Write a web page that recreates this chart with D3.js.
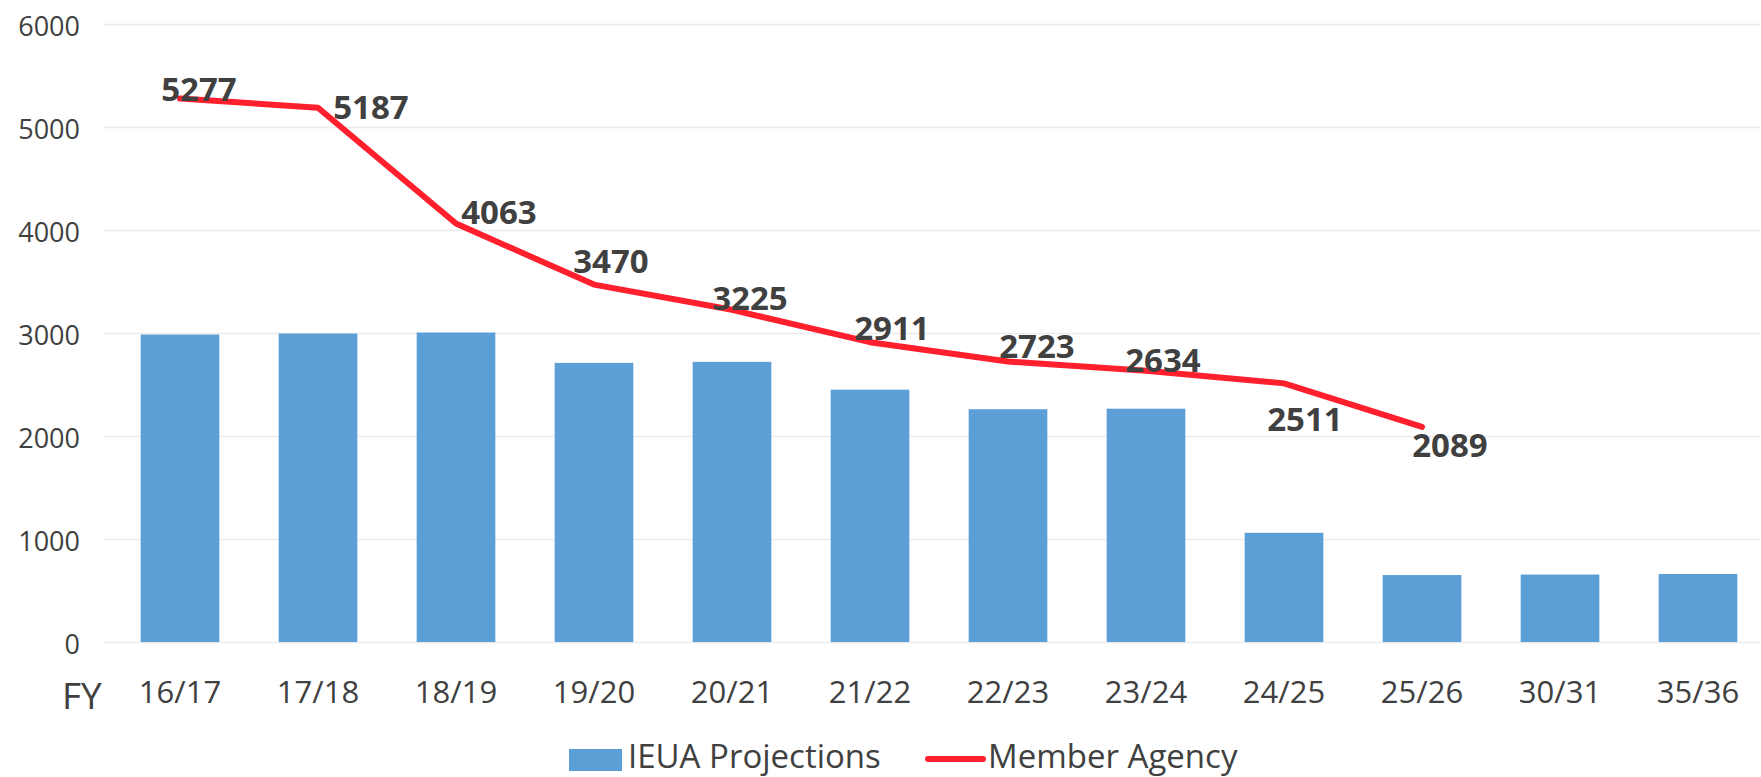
<!DOCTYPE html>
<html>
<head>
<meta charset="utf-8">
<script src="https://cdn.jsdelivr.net/npm/d3@7"></script>
<style>
  html, body { margin: 0; padding: 0; background: #ffffff; }
  svg { display: block; font-family: "Open Sans", sans-serif; }
</style>
</head>
<body>
<div id="chart"></div>
<script>
// fiscal years on the x axis
const years = ["16/17", "17/18", "18/19", "19/20", "20/21", "21/22", "22/23", "23/24", "24/25", "25/26", "30/31", "35/36"];
// IEUA Projections (bars)
const ieuaProjections = [2985, 2995, 3005, 2710, 2720, 2450, 2260, 2265, 1060, 650, 655, 660];
// Member Agency (line), only up to 25/26
const memberAgency = [5277, 5187, 4063, 3470, 3225, 2911, 2723, 2634, 2511, 2089];
const yTicks = [0, 1000, 2000, 3000, 4000, 5000, 6000];

// label nudges in px (layout only), relative to each line point
const labelNudge = [[19, -9], [53, -1], [43, -12], [17, -24], [18, -12], [22, -14], [29, -16], [17, -11], [21, 36], [28, 18]];

const width = 1761, height = 777;
const barColor = "#5b9fd6", lineColor = "#ff1f2d", textColor = "#404040";

const svg = d3.select("#chart")
  .append("svg")
    .attr("width", width)
    .attr("height", height);

svg.append("rect")
  .attr("width", width)
  .attr("height", height)
  .attr("fill", "#ffffff");

// scales
const x = d3.scaleBand()
  .domain(years)
  .range([111, 1767])
  .paddingInner(0.43)
  .paddingOuter(0.215);

const y = d3.scaleLinear()
  .domain([0, 6000])
  .range([642, 24]);

// grid lines + y labels
const yAxis = svg.append("g")
  .call(d3.axisLeft(y).tickValues(yTicks).tickSize(0).tickPadding(0).tickFormat(d3.format("d")));
yAxis.select(".domain").remove();
yAxis.selectAll(".tick line").remove();
yAxis.selectAll(".tick").each(function () {
  const g = d3.select(this);
  g.insert("line", "text")
    .attr("x1", 104)
    .attr("x2", width)
    .attr("stroke", "#ebebeb")
    .attr("stroke-width", 1.5);
});
yAxis.selectAll(".tick text")
  .attr("x", 80)
  .attr("dy", null)
  .attr("y", 11)
  .attr("fill", textColor)
  .style("font-size", "27px")
  .style("font-family", "Open Sans")
  .attr("text-anchor", "end");

// bars
svg.append("g")
  .selectAll("rect")
  .data(ieuaProjections)
  .join("rect")
    .attr("x", (d, i) => x(years[i]))
    .attr("y", d => y(d))
    .attr("width", x.bandwidth())
    .attr("height", d => y(0) - y(d))
    .attr("fill", barColor);

// x axis labels
const xAxis = svg.append("g")
  .attr("transform", "translate(0, 703)")
  .call(d3.axisBottom(x).tickSize(0).tickPadding(0));
xAxis.select(".domain").remove();
xAxis.selectAll(".tick text")
  .attr("y", 0)
  .attr("dy", null)
  .attr("fill", textColor)
  .style("font-size", "31px")
  .style("font-family", "Open Sans");

svg.append("text")
  .attr("x", 62)
  .attr("y", 709)
  .attr("fill", textColor)
  .style("font-size", "37px")
  .text("FY");

// member agency line
const cx = (d, i) => x(years[i]) + x.bandwidth() / 2;
svg.append("path")
  .datum(memberAgency)
  .attr("fill", "none")
  .attr("stroke", lineColor)
  .attr("stroke-width", 6)
  .attr("stroke-linejoin", "round")
  .attr("stroke-linecap", "round")
  .attr("d", d3.line()
    .x(cx)
    .y(d => y(d))
  );

// data labels
svg.append("g")
  .selectAll("text")
  .data(memberAgency)
  .join("text")
    .attr("x", (d, i) => cx(d, i) + labelNudge[i][0])
    .attr("y", (d, i) => y(d) + labelNudge[i][1] + 12)
    .attr("text-anchor", "middle")
    .attr("fill", textColor)
    .style("font-size", "33px")
    .style("font-weight", "bold")
    .text(d => d);

// legend
const legend = svg.append("g");
legend.append("rect")
  .attr("x", 569)
  .attr("y", 749)
  .attr("width", 53)
  .attr("height", 22)
  .attr("fill", barColor);
legend.append("text")
  .attr("x", 628)
  .attr("y", 768)
  .attr("fill", textColor)
  .style("font-size", "33px")
  .text("IEUA Projections");
legend.append("line")
  .attr("x1", 928)
  .attr("x2", 983)
  .attr("y1", 759)
  .attr("y2", 759)
  .attr("stroke", lineColor)
  .attr("stroke-width", 6)
  .attr("stroke-linecap", "round");
legend.append("text")
  .attr("x", 988)
  .attr("y", 768)
  .attr("fill", textColor)
  .style("font-size", "33px")
  .text("Member Agency");
</script>
</body>
</html>
